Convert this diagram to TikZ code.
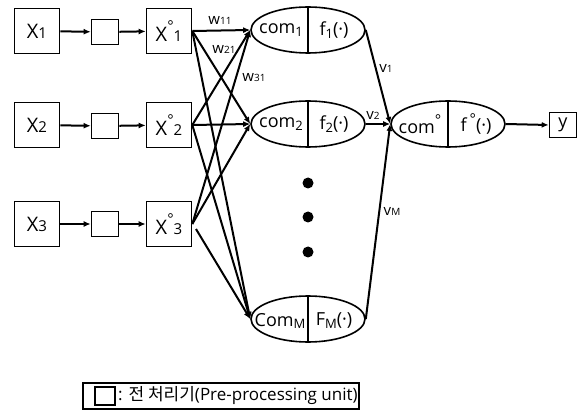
\documentclass[tikz,border=0pt]{standalone}
\usepackage{fontspec}
\setmainfont{Open Sans}
\newfontfamily\krfont{Noto Sans CJK KR}
\usetikzlibrary{shapes.geometric,arrows.meta}
\newcommand{\sbs}[1]{\raisebox{-0.3ex}{\fontsize{13}{13}\selectfont #1}}
\newcommand{\smalln}[1]{{\fontsize{15}{15}\selectfont #1}}
\newcommand{\lsub}[1]{{\fontsize{10}{10}\selectfont #1}}
\begin{document}
\begin{tikzpicture}[x=1pt,y=-1pt,
  box/.style={draw, line width=1.6pt, minimum width=45pt, minimum height=45pt, inner sep=0pt, font=\fontsize{20}{20}\selectfont},
  pre/.style={draw, line width=1.6pt, minimum width=27pt, minimum height=25pt, inner sep=0pt},
  unit/.style={draw, ellipse, line width=1.6pt, minimum width=114pt, minimum height=46pt, inner sep=0pt},
  txt/.style={inner sep=0pt, font=\fontsize{18}{18}\selectfont},
  conn/.style={line width=2pt, -{Latex[length=7pt,width=6pt]}},
  lab/.style={inner sep=0pt, font=\fontsize{15}{15}\selectfont},
  dot/.style={circle, fill, minimum size=11pt, inner sep=0pt}]
\useasboundingbox (0,0) rectangle (580,411);

% inputs
\node[box] (x1) at (37,31) {X\smalln{1}};
\node[box] (x2) at (37,125) {X\smalln{2}};
\node[box] (x3) at (37,224) {X\smalln{3}};
\node[pre] (p1) at (105,32) {};
\node[pre] (p2) at (105,126) {};
\node[pre] (p3) at (105,224) {};
\node[box] (xo1) at (169,31) {X\raisebox{0.9ex}{\smalln{°}}\smalln{1}};
\node[box] (xo2) at (169,125) {X\raisebox{0.9ex}{\smalln{°}}\smalln{2}};
\node[box] (xo3) at (169,224) {X\raisebox{0.9ex}{\smalln{°}}\smalln{3}};

% units
\node[unit] (c1) at (308,30) {};
\node[unit] (c2) at (308,124) {};
\node[unit] (cM) at (308,319) {};
\node[unit] (co) at (448,124) {};
\foreach \n in {c1,c2,cM,co}{\draw[line width=1.6pt] (\n.north) -- (\n.south);}
\node[txt] (t1a) at (281,30) {com\sbs{1}};
\node[txt] (t1b) at (334,30) {f\sbs{1}(·)};
\node[txt] (t2a) at (281,124) {com\sbs{2}};
\node[txt] (t2b) at (334,124) {f\sbs{2}(·)};
\node[txt] (tMa) at (280,321) {Com\sbs{M}};
\node[txt] (tMb) at (334,321) {F\sbs{M}(·)};
\node[txt] (toa) at (420,124) {com\raisebox{0.8ex}{\smalln{°}}};
\node[txt] (tob) at (476,124) {f\,\raisebox{0.8ex}{\smalln{°}}(·)};

\node[draw, line width=1.6pt, minimum width=27pt, minimum height=25pt, inner sep=0pt, font=\fontsize{18}{18}\selectfont] (y) at (563,125) {y};

% dots
\node[dot] (d1) at (308,183) {};
\node[dot] (d2) at (308,217) {};
\node[dot] (d3) at (308,252) {};

% chain
\draw[conn] (x1) -- (p1);
\draw[conn] (p1) -- (xo1);
\draw[conn] (x2) -- (p2);
\draw[conn] (p2) -- (xo2);
\draw[conn] (x3) -- (p3);
\draw[conn] (p3) -- (xo3);

% weights
\coordinate (s3) at (196,229);
\foreach \s in {xo1,xo2,xo3}{
  \draw[conn] (\s.east) -- (c1.west);
  \draw[conn] (\s.east) -- (c2.west);
}
\draw[conn] (xo1.east) -- (cM.west);
\draw[conn] (xo2.east) -- (cM.west);
\draw[conn] (s3) -- (cM.west);

\draw[conn] (c1.east) -- (co.west);
\draw[conn] (c2.east) -- (co.west);
\draw[conn] (cM.east) -- (co.west);
\draw[conn] (co.east) -- (y.west);

% labels
\node[lab] (w11) at (220,20) {w\lsub{11}};
\node[lab] (w21) at (224,49) {w\lsub{21}};
\node[lab] (w31) at (254,78) {w\lsub{31}};
\node[lab] (v1) at (386,68) {v\lsub{1}};
\node[lab] (v2) at (373,115) {v\lsub{2}};
\node[lab] (vM) at (392,211) {v\lsub{M}};

% legend
\node[draw, line width=1.4pt, minimum width=276pt, minimum height=26pt, inner sep=0pt] (leg) at (221,396) {};
\node[draw, line width=1.4pt, minimum width=20pt, minimum height=18pt, inner sep=0pt] (legsq) at (105,396) {};
\node[anchor=west, inner sep=0pt, font=\fontsize{17}{17}\selectfont] (legt) at (118,396) {: {\krfont 전 처리기}(Pre-processing unit)};
\end{tikzpicture}
\end{document}
